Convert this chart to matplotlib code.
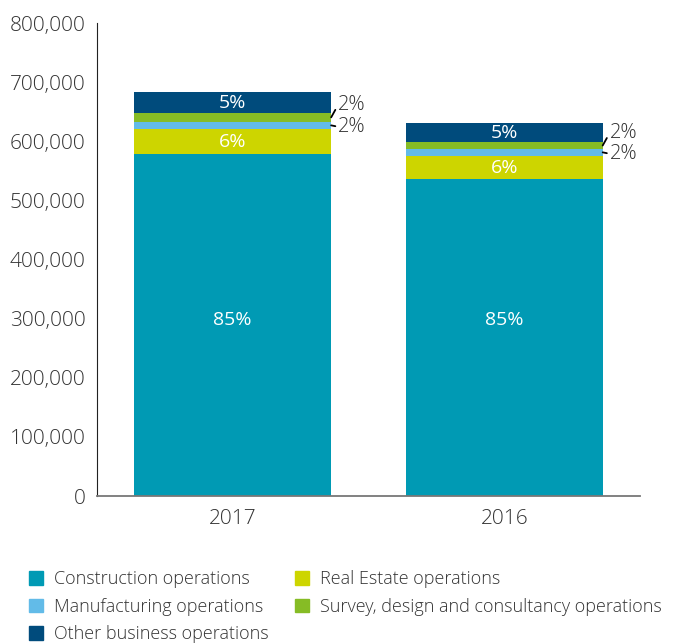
import matplotlib
matplotlib.use("Agg")
import matplotlib.pyplot as plt
from matplotlib.ticker import FuncFormatter
from matplotlib.patches import Patch

plt.rcParams['font.family'] = ['Open Sans', 'DejaVu Sans']
plt.rcParams['font.weight'] = 'light'

years = ["2017", "2016"]
segments = ["Construction operations", "Real Estate operations", "Manufacturing operations",
            "Survey, design and consultancy operations", "Other business operations"]
construction = [578400, 536200]
real_estate = [42300, 39400]
manufacturing = [12400, 11300]
survey = [14700, 11800]
other = [35500, 32600]
pct_construction = ["85%", "85%"]
pct_real_estate = ["6%", "6%"]
pct_manufacturing = ["2%", "2%"]
pct_survey = ["2%", "2%"]
pct_other = ["5%", "5%"]

colors = ["#009AB4", "#CDD500", "#62BBE8", "#86BC25", "#004B7C"]
txt = "#333333"

fig = plt.figure(figsize=(6.73, 6.43), dpi=100)
ax = fig.add_axes([0.1441, 0.2286, 0.8069, 0.7356])

x = range(len(years))
w = 0.725
series = [construction, real_estate, manufacturing, survey, other]
bottom = [0, 0]
bars = []
for vals, c in zip(series, colors):
    b = ax.bar(x, vals, w, bottom=bottom, color=c, linewidth=0)
    bars.append((b, list(bottom), vals))
    bottom = [bt + v for bt, v in zip(bottom, vals)]

# labels inside bars (big segment label sits at a fixed height)
for i in x:
    ax.text(i, 298000, pct_construction[i], ha="center", va="center",
            color="white", fontsize=14, fontweight="normal")
for idx, labels in [(1, pct_real_estate), (4, pct_other)]:
    b, bt, vals = bars[idx]
    for i in x:
        ax.text(i, bt[i] + vals[i] / 2 - 1500, labels[i], ha="center", va="center",
                color="white", fontsize=14, fontweight="normal")

# small segments labelled outside with leader lines
for i in x:
    b, bt, vals = bars[3]
    ax.annotate(pct_survey[i], xy=(i + w / 2, bt[i] + vals[i] / 2),
                xytext=(5, 9), textcoords="offset points", ha="left", va="center",
                fontsize=14.5, color=txt,
                arrowprops=dict(arrowstyle="-", color="black", lw=1.3,
                                shrinkA=0, shrinkB=0, relpos=(0, 0.5)))
    b, bt, vals = bars[2]
    ax.annotate(pct_manufacturing[i], xy=(i + w / 2, bt[i] + vals[i] / 2),
                xytext=(5, -1), textcoords="offset points", ha="left", va="center",
                fontsize=14.5, color=txt,
                arrowprops=dict(arrowstyle="-", color="black", lw=1.3,
                                shrinkA=0, shrinkB=0, relpos=(0, 0.5)))

ax.set_xlim(-0.5, 1.5)
ax.set_ylim(0, 800000)
ax.set_yticks(range(0, 800001, 100000))
ax.yaxis.set_major_formatter(FuncFormatter(lambda v, p: f"{int(v):,}"))
ax.set_xticks(list(x))
ax.set_xticklabels(years)
ax.tick_params(axis="both", length=0, labelsize=15, labelcolor=txt)
ax.tick_params(axis="x", pad=9)
ax.tick_params(axis="y", pad=8)
ax.spines["top"].set_visible(False)
ax.spines["right"].set_visible(False)
ax.spines["left"].set_color("#222222")
ax.spines["bottom"].set_color("#777777")
ax.spines["bottom"].set_linewidth(1.3)

order = [0, 2, 4, 1, 3]
handles = [Patch(color=colors[k]) for k in order]
labels = [segments[k] for k in order]
fig.legend(handles, labels, ncol=2, loc="upper left", bbox_to_anchor=(0.043, 0.113),
           frameon=False, fontsize=13.0, handlelength=0.8, handleheight=0.8,
           handletextpad=0.6, columnspacing=1.45, labelspacing=0.52, borderpad=0,
           borderaxespad=0, labelcolor=txt)

fig.savefig("out.png", dpi=100)
